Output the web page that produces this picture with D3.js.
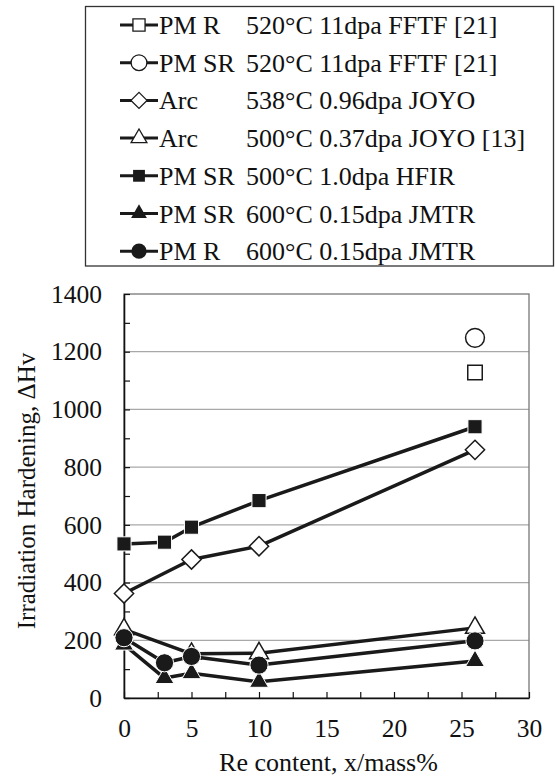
<!DOCTYPE html>
<html>
<head>
<meta charset="utf-8">
<script src="https://cdn.jsdelivr.net/npm/d3@7"></script>
<style>
  body { margin: 0; background: #fff; }
  text { font-family: "Liberation Serif", "Times New Roman", serif; fill: #111; }
</style>
</head>
<body>
<div id="chart"></div>
<script>
// values (Re content in mass%, hardening in Hv)
const pmR_FFTF    = [[26, 1128]];
const pmSR_FFTF   = [[26, 1248]];
const arc_538     = [[0, 362], [5, 480], [10, 526], [26, 860]];
const arc_500     = [[0, 238], [5, 153], [10, 155], [26, 243]];
const pmSR_HFIR   = [[0, 534], [3, 540], [5, 592], [10, 684], [26, 940]];
const pmSR_JMTR   = [[0, 185], [3, 69], [5, 86], [10, 56], [26, 128]];
const pmR_JMTR    = [[0, 209], [3, 122], [5, 144], [10, 114], [26, 198]];

const legendNames   = ["PM R", "PM SR", "Arc", "Arc", "PM SR", "PM SR", "PM R"];
const legendDetails = ["520°C 11dpa FFTF [21]", "520°C 11dpa FFTF [21]", "538°C 0.96dpa JOYO",
                       "500°C 0.37dpa JOYO [13]", "500°C 1.0dpa HFIR", "600°C 0.15dpa JMTR", "600°C 0.15dpa JMTR"];

const xTicks = [0, 5, 10, 15, 20, 25, 30];
const yTicks = [0, 200, 400, 600, 800, 1000, 1200, 1400];

const W = 555, H = 776;
const margin = {top: 294, right: 26, bottom: 78, left: 124};
const width = W - margin.left - margin.right;
const height = H - margin.top - margin.bottom;

const svg = d3.select("#chart").append("svg")
    .attr("width", W)
    .attr("height", H);

const x = d3.scaleLinear().domain([0, 30]).range([0, width]);
const y = d3.scaleLinear().domain([0, 1400]).range([height, 0]);

const g = svg.append("g")
    .attr("transform", "translate(" + margin.left + "," + margin.top + ")");

// gridlines
g.append("g").selectAll("line")
    .data(yTicks.filter(v => v > 0 && v < 1400))
    .join("line")
    .attr("x1", 0).attr("x2", width)
    .attr("y1", d => y(d)).attr("y2", d => y(d))
    .attr("stroke", "#a8a8a8").attr("stroke-width", 1.2);

// plot frame (top and right)
g.append("rect")
    .attr("x", 0).attr("y", 0)
    .attr("width", width).attr("height", height)
    .attr("fill", "none").attr("stroke", "#777").attr("stroke-width", 1.3);

// axes, ticks pointing inward
const yAxis = g.append("g")
    .call(d3.axisLeft(y)
        .tickValues(d3.range(0, 1401, 100))
        .tickFormat(d => yTicks.includes(d) ? d : "")
        .tickSizeInner(-6).tickSizeOuter(0).tickPadding(22));

const xAxis = g.append("g")
    .attr("transform", "translate(0," + height + ")")
    .call(d3.axisBottom(x)
        .tickValues(d3.range(0, 30.1, 2.5))
        .tickFormat(d => xTicks.includes(d) ? d : "")
        .tickSizeInner(-6).tickSizeOuter(0).tickPadding(21));

[xAxis, yAxis].forEach(a => {
    a.select(".domain").attr("stroke", "#111").attr("stroke-width", 1.6);
    a.selectAll(".tick line").attr("stroke", "#111").attr("stroke-width", 1.2);
    a.selectAll(".tick text")
        .attr("font-family", "Liberation Serif, Times New Roman, serif")
        .attr("font-size", 25.5).attr("fill", "#111");
});

// axis titles
svg.append("text")
    .attr("x", margin.left + x(15) + 2)
    .attr("y", 771)
    .attr("text-anchor", "middle")
    .attr("font-size", 26)
    .text("Re content, x/mass%");

svg.append("text")
    .attr("transform", "translate(35,491) rotate(-90)")
    .attr("text-anchor", "middle")
    .attr("font-size", 25)
    .text("Irradiation Hardening, ΔHv");

// marker shapes
const diamond = {
    draw(ctx, size) {
        const r = Math.sqrt(size / 2);
        ctx.moveTo(0, -r); ctx.lineTo(r, 0); ctx.lineTo(0, r); ctx.lineTo(-r, 0); ctx.closePath();
    }
};

const series = [
    {data: pmR_FFTF,  shape: d3.symbolSquare,   size: 210, fill: "#fff", line: false},
    {data: pmSR_FFTF, shape: d3.symbolCircle,   size: 280, fill: "#fff", line: false},
    {data: arc_538,   shape: diamond,           size: 185, fill: "#fff", line: true},
    {data: arc_500,   shape: d3.symbolTriangle, size: 155, fill: "#fff", line: true},
    {data: pmSR_HFIR, shape: d3.symbolSquare,   size: 200, fill: "#1a1a1a", line: true},
    {data: pmSR_JMTR, shape: d3.symbolTriangle, size: 155, fill: "#1a1a1a", line: true},
    {data: pmR_JMTR,  shape: d3.symbolCircle,   size: 260, fill: "#1a1a1a", line: true}
];

const line = d3.line().x(d => x(d[0])).y(d => y(d[1]));

series.forEach(s => {
    if (s.line) {
        g.append("path")
            .attr("d", line(s.data))
            .attr("fill", "none")
            .attr("stroke", "#1a1a1a")
            .attr("stroke-width", 3.5)
            .attr("stroke-linejoin", "round");
    }
    g.append("g").selectAll("path")
        .data(s.data)
        .join("path")
        .attr("transform", d => "translate(" + x(d[0]) + "," + y(d[1]) + ")")
        .attr("d", d3.symbol(s.shape, s.size))
        .attr("fill", s.fill)
        .attr("stroke", s.fill === "#fff" ? "#1a1a1a" : "#fff")
        .attr("stroke-width", s.fill === "#fff" ? 1.5 : 1);
});

// legend box
svg.append("rect")
    .attr("x", 85.5).attr("y", 6.5)
    .attr("width", 468).attr("height", 259.5)
    .attr("fill", "#fff").attr("stroke", "#333").attr("stroke-width", 1.3);

const rowY = i => 25 + i * 37.7;

const legend = svg.append("g").selectAll("g")
    .data(series)
    .join("g")
    .attr("transform", (d, i) => "translate(0," + rowY(i) + ")");

legend.append("line")
    .attr("x1", 120).attr("x2", 158)
    .attr("stroke", "#1a1a1a").attr("stroke-width", 3);

legend.append("path")
    .attr("transform", "translate(139,0)")
    .attr("d", s => d3.symbol(s.shape, s.size * 0.7)())
    .attr("fill", s => s.fill)
    .attr("stroke", s => s.fill === "#fff" ? "#1a1a1a" : "none")
    .attr("stroke-width", 1.3);

const lt = legend.append("text")
    .attr("y", 9)
    .attr("font-size", 26);
lt.append("tspan").attr("x", 159).text((d, i) => legendNames[i]);
lt.append("tspan").attr("x", 246).text((d, i) => legendDetails[i]);
</script>
</body>
</html>
